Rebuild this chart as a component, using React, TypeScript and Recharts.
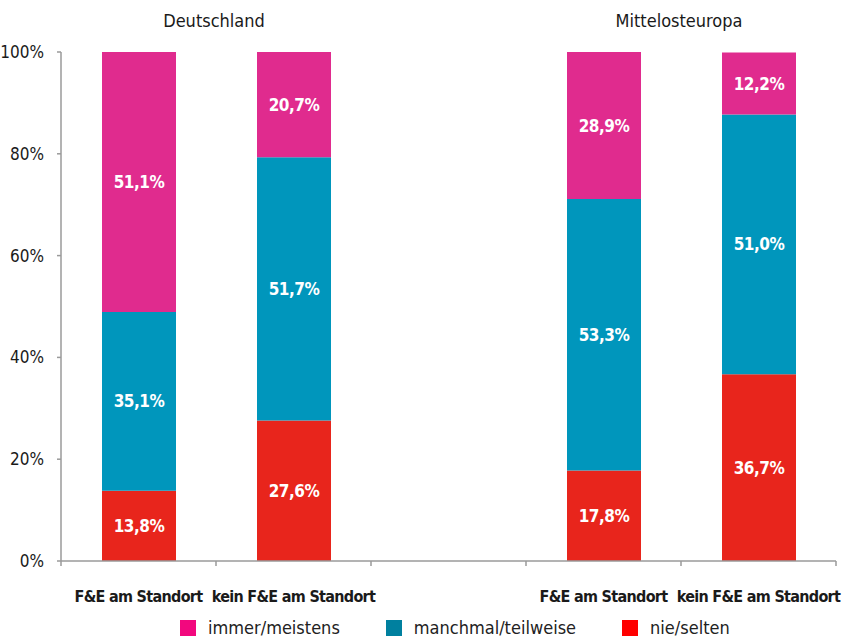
import React from 'react';
import { BarChart, Bar, XAxis, YAxis, LabelList, Legend } from 'recharts';

const categories = ['F&E am Standort', 'kein F&E am Standort', '', 'F&E am Standort', 'kein F&E am Standort'];
// group title is drawn at the right edge of the category that carries it
const groupTitles = ['Deutschland', '', '', 'Mittelosteuropa', ''];

const nieSelten = [13.8, 27.6, null, 17.8, 36.7];
const manchmal = [35.1, 51.7, null, 53.3, 51.0];
const immer = [51.1, 20.7, null, 28.9, 12.2];

const yTicks = [0, 20, 40, 60, 80, 100];

const legendItems = [
    { name: 'immer/meistens', color: '#F2087E' },
    { name: 'manchmal/teilweise', color: '#00809F' },
    { name: 'nie/selten', color: '#FF0000' },
];

const FONT = '"DejaVu Sans Condensed", "Liberation Sans Narrow", sans-serif';

const data = categories.map((label, i) => ({
    label,
    group: groupTitles[i],
    nie: nieSelten[i],
    manchmal: manchmal[i],
    immer: immer[i],
}));

const fmt = (v: any) => (v == null ? '' : `${Number(v).toFixed(1).replace('.', ',')}%`);

const labelStyle = { fill: '#fff', fontSize: 17, fontWeight: 700, fontFamily: FONT, letterSpacing: -0.5 };

const BottomTick = (props: any) => {
    const { x, y, payload } = props;
    const half = payload.offset || 0;
    const last = payload.index === categories.length - 1;
    return (
        <g>
            <line x1={x - half} x2={x - half} y1={y} y2={y + 5} stroke="#9a9a9a" strokeWidth={1.5} />
            {last && <line x1={x + half} x2={x + half} y1={y} y2={y + 5} stroke="#9a9a9a" strokeWidth={1.5} />}
            <text x={x} y={y + 41} textAnchor="middle" fill="#1a1a1a" fontSize={16} fontWeight={700} fontFamily={FONT} letterSpacing={-0.7}>
                {categories[payload.index]}
            </text>
        </g>
    );
};

const TopTick = (props: any) => {
    const { x, y, payload } = props;
    const half = payload.offset || 0;
    const title = groupTitles[payload.index];
    if (!title) return <g />;
    return (
        <text x={x + half - 2} y={y - 25} textAnchor="middle" fill="#1a1a1a" fontSize={18} fontFamily={FONT}>
            {title}
        </text>
    );
};

const LegendContent = () => (
    <div style={{ display: 'flex', alignItems: 'center', gap: 46, fontFamily: FONT, fontSize: 18, color: '#222', whiteSpace: 'nowrap' }}>
        {legendItems.map((it) => (
            <div key={it.name} style={{ display: 'flex', alignItems: 'center' }}>
                <span style={{ width: 16, height: 16, background: it.color, display: 'inline-block', marginRight: 12 }} />
                <span>{it.name}</span>
            </div>
        ))}
    </div>
);

const App: React.FC = () => {
    return (
        <div style={{ position: 'absolute', left: 0, top: 0, background: '#fff' }}>
            <BarChart
                width={851}
                height={638}
                data={data}
                margin={{ top: 22, right: 15, left: 11, bottom: 27 }}
            >
                <XAxis
                    xAxisId="cat"
                    dataKey="label"
                    height={50}
                    interval={0}
                    tickLine={false}
                    tickSize={0}
                    tickMargin={0}
                    tick={<BottomTick />}
                    stroke="#9a9a9a"
                    strokeWidth={1.5}
                />
                <XAxis
                    xAxisId="top"
                    dataKey="label"
                    orientation="top"
                    height={30}
                    interval={0}
                    axisLine={false}
                    tickLine={false}
                    tickSize={0}
                    tickMargin={0}
                    tick={<TopTick />}
                />
                <YAxis
                    width={50}
                    domain={[0, 100]}
                    ticks={yTicks}
                    tickFormatter={(v: number) => `${v}%`}
                    tickSize={4}
                    tickMargin={13}
                    stroke="#9a9a9a"
                    strokeWidth={1.5}
                    tick={{ fill: '#1a1a1a', fontSize: 17, fontFamily: FONT }}
                />
                <Legend
                    verticalAlign="middle"
                    layout="horizontal"
                    wrapperStyle={{ top: 617, left: 180, width: 660 }}
                    content={<LegendContent />}
                />
                <Bar xAxisId="cat" dataKey="nie" stackId="a" fill="#E8251C" barSize={74} isAnimationActive={false}>
                    <LabelList dataKey="nie" position="center" formatter={fmt} style={labelStyle} />
                </Bar>
                <Bar xAxisId="cat" dataKey="manchmal" stackId="a" fill="#0096BC" barSize={74} isAnimationActive={false}>
                    <LabelList dataKey="manchmal" position="center" formatter={fmt} style={labelStyle} />
                </Bar>
                <Bar xAxisId="cat" dataKey="immer" stackId="a" fill="#E02B8E" barSize={74} isAnimationActive={false}>
                    <LabelList dataKey="immer" position="center" formatter={fmt} style={labelStyle} />
                </Bar>
            </BarChart>
        </div>
    );
};

export default App;
